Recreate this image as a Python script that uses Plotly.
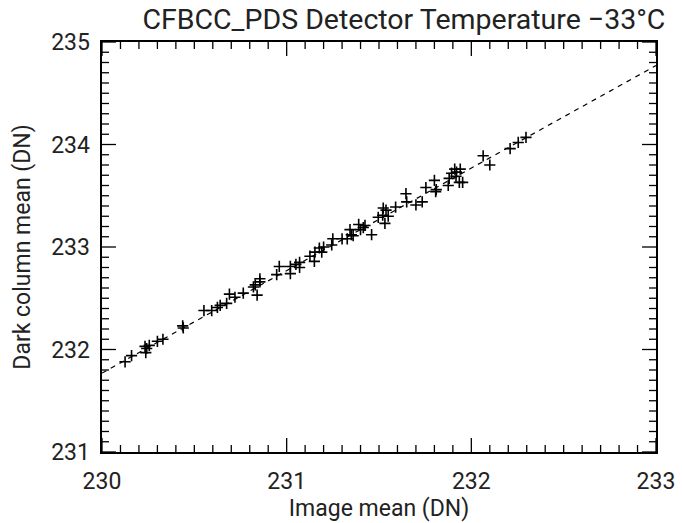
import plotly.graph_objects as go

# Scatter data: image mean (DN) vs dark column mean (DN)
image_mean = [
    230.125, 230.16, 230.233, 230.256, 230.237, 230.242, 230.30, 230.33, 230.437, 230.44,
    230.552, 230.594, 230.625, 230.64, 230.675, 230.69, 230.72, 230.765, 230.82, 230.83,
    230.84, 230.855, 230.855, 230.946, 230.96, 231.02, 231.02, 231.05, 231.07, 231.07,
    231.126, 231.15, 231.153, 231.177, 231.19, 231.20, 231.244, 231.25, 231.30, 231.328,
    231.343, 231.35, 231.36, 231.39, 231.40, 231.415, 231.424, 231.46, 231.496, 231.52,
    231.523, 231.538, 231.532, 231.55, 231.59, 231.646, 231.65, 231.70, 231.734, 231.754,
    231.80, 231.807, 231.81, 231.88, 231.875, 231.893, 231.91, 231.917, 231.92, 231.94,
    231.935, 231.953, 232.064, 232.10, 232.21, 232.254, 232.296,
]
dark_column_mean = [
    231.88, 231.94, 232.03, 232.04, 231.97, 232.01, 232.08, 232.10, 232.23, 232.21,
    232.38, 232.38, 232.41, 232.43, 232.45, 232.54, 232.51, 232.55, 232.61, 232.63,
    232.53, 232.69, 232.66, 232.73, 232.81, 232.74, 232.81, 232.83, 232.85, 232.80,
    232.91, 232.86, 232.95, 232.99, 232.95, 233.00, 233.02, 233.08, 233.08, 233.08,
    233.17, 233.12, 233.11, 233.22, 233.17, 233.19, 233.21, 233.12, 233.29, 233.31,
    233.38, 233.36, 233.23, 233.30, 233.39, 233.52, 233.44, 233.41, 233.44, 233.58,
    233.65, 233.54, 233.56, 233.67, 233.60, 233.72, 233.76, 233.69, 233.73, 233.76,
    233.63, 233.63, 233.89, 233.80, 233.96, 234.02, 234.07,
]

# Linear fit line endpoints
fit_x = [230.0, 233.0]
fit_y = [231.77, 234.77]

x_ticks = [230, 231, 232, 233]
y_ticks = [231, 232, 233, 234, 235]
minor_step = 0.1

title_text = "CFBCC_PDS Detector Temperature \u221233\u00b0C"
x_title = "Image mean (DN)"
y_title = "Dark column mean (DN)"

FONT = "Roboto"
INK = "#222222"

x_range = [x_ticks[0], x_ticks[-1]]
y_range = [y_ticks[0], y_ticks[-1]]


def minor_positions(ticks, step):
    n = int(round((ticks[-1] - ticks[0]) / step))
    return [round(ticks[0] + i * step, 3) for i in range(1, n) if i % int(round(1 / step))]


x_minor = minor_positions(x_ticks, minor_step)
y_minor = minor_positions(y_ticks, minor_step)

fig = go.Figure()

# Tick marks on all four sides, drawn as clipped markers centred on the frame
# (only the inner half stays visible, giving inward-pointing ticks)
def tick_trace(xs, ys, symbol, size):
    return go.Scatter(
        x=xs, y=ys, mode="markers", cliponaxis=True, hoverinfo="skip", showlegend=False,
        marker=dict(symbol=symbol, size=size, color="black",
                    line=dict(color="black", width=1.3)),
    )

for yv in (y_range[0], y_range[1]):
    fig.add_trace(tick_trace(x_ticks, [yv] * len(x_ticks), "line-ns", 20))
    fig.add_trace(tick_trace(x_minor, [yv] * len(x_minor), "line-ns", 10))
for xv in (x_range[0], x_range[1]):
    fig.add_trace(tick_trace([xv] * len(y_ticks), y_ticks, "line-ew", 20))
    fig.add_trace(tick_trace([xv] * len(y_minor), y_minor, "line-ew", 10))

fig.add_trace(go.Scatter(
    x=fit_x, y=fit_y, mode="lines",
    line=dict(color="black", width=1.2, dash="5px,5px"),
    showlegend=False, hoverinfo="skip",
))
fig.add_trace(go.Scatter(
    x=image_mean, y=dark_column_mean, mode="markers",
    marker=dict(symbol="cross-thin", size=8, line=dict(color="black", width=1.6)),
    showlegend=False,
))

axis_style = dict(showgrid=False, zeroline=False, showline=True, linecolor="black", linewidth=1.5,
                  mirror=True, ticks="", tickfont=dict(family=FONT, size=23, color=INK))

fig.update_xaxes(range=x_range, tickmode="array", tickvals=x_ticks,
                 ticktext=[str(v) for v in x_ticks], ticklabelstandoff=8,
                 title=dict(text=x_title, standoff=6, font=dict(family=FONT, size=23, color=INK)),
                 automargin=False, **axis_style)
fig.update_yaxes(range=y_range, tickmode="array", tickvals=y_ticks,
                 ticktext=[str(v) + "\u00a0" for v in y_ticks],
                 title=dict(text=y_title, standoff=14, font=dict(family=FONT, size=23, color=INK)),
                 automargin=False, **axis_style)

fig.update_layout(
    template="simple_white",
    width=682, height=523,
    showlegend=False,
    margin=dict(l=102, r=26, t=42, b=71),
    title=dict(text=title_text, xref="paper", x=0.545, xanchor="center",
               yref="container", y=0.964, yanchor="middle",
               font=dict(family=FONT, size=28.5, color=INK)),
)

fig.write_html("out.html")
